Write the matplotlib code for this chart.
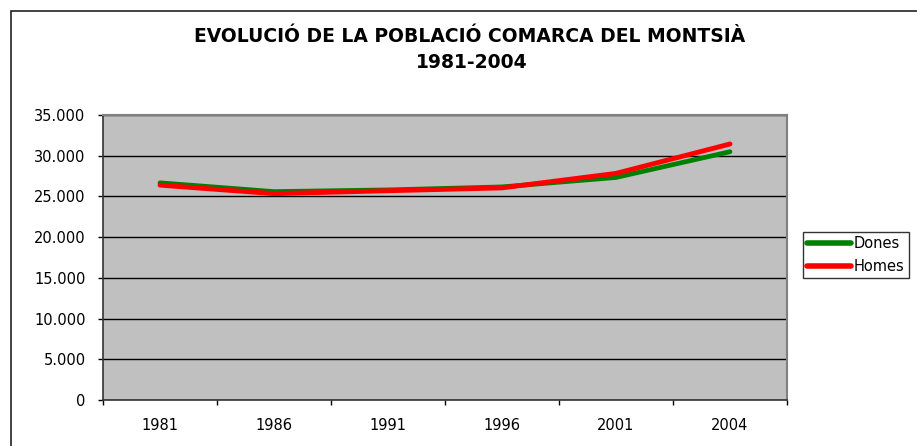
import matplotlib
matplotlib.use("Agg")
import matplotlib.pyplot as plt
from matplotlib.patches import Rectangle
from matplotlib.ticker import FuncFormatter, MultipleLocator

years = ["1981", "1986", "1991", "1996", "2001", "2004"]
dones = [26670, 25590, 25800, 26170, 27330, 30490]
homes = [26390, 25340, 25700, 26050, 27830, 31440]

title_line1 = "EVOLUCIÓ DE LA POBLACIÓ COMARCA DEL MONTSIÀ"
title_line2 = "1981-2004"

plt.rcParams['font.family'] = ['DejaVu Sans', 'Liberation Sans']

W, H = 917, 446
fig = plt.figure(figsize=(W / 100, H / 100), dpi=100)
fig.patch.set_facecolor("white")

# outer chart border (cropped on right/bottom)
fig.add_artist(Rectangle((11 / W, -0.1), 1.2, 1 - 11 / H + 0.1,
                         transform=fig.transFigure, fill=False,
                         edgecolor="#222222", linewidth=1.2))

ax = fig.add_axes([103 / W, (H - 400) / H, (787 - 103) / W, (400 - 115) / H])
ax.set_facecolor("#C0C0C0")

x = list(range(len(years)))
ax.plot(x, dones, color="#008000", linewidth=3.4, solid_capstyle="round",
        solid_joinstyle="round", label="Dones", zorder=3)
ax.plot(x, homes, color="#FF0000", linewidth=3.5, solid_capstyle="round",
        solid_joinstyle="round", label="Homes", zorder=4)

ax.set_xlim(-0.5, len(years) - 0.5)
ax.set_ylim(0, 35000)
ax.yaxis.set_major_locator(MultipleLocator(5000))
ax.yaxis.set_major_formatter(FuncFormatter(lambda v, p: f"{int(v):,}".replace(",", ".")))
ax.grid(axis="y", color="black", linewidth=1.0, zorder=1)
ax.set_axisbelow(True)

ax.set_xticks(x)
ax.set_xticklabels(years)
ax.set_xticks([i - 0.5 for i in range(len(years) + 1)], minor=True)
ax.tick_params(axis="x", which="major", length=0, pad=13, labelsize=10.5, colors="black")
ax.tick_params(axis="x", which="minor", length=3.6, width=1, direction="out", color="black")
ax.tick_params(axis="y", which="major", length=3.6, width=1, direction="out", pad=9,
               labelsize=10.5, colors="black")

for s in ["top", "right"]:
    ax.spines[s].set_color("#808080")
    ax.spines[s].set_linewidth(1.5)
for s in ["left", "bottom"]:
    ax.spines[s].set_color("#333333")
    ax.spines[s].set_linewidth(1.2)

fig.text(470 / W, 1 - 36 / H, title_line1, ha="center", va="center",
         fontsize=13.5, fontweight="bold")
fig.text(472 / W, 1 - 62 / H, title_line2, ha="center", va="center",
         fontsize=13.5, fontweight="bold")

leg = fig.legend(loc="upper left", bbox_to_anchor=(803 / W, 1 - 232 / H),
                 frameon=True, fancybox=False, edgecolor="black",
                 fontsize=10.5, handlelength=3.0, handletextpad=0.2,
                 borderpad=0.3, labelspacing=0.5, borderaxespad=0)
leg.get_frame().set_linewidth(1.0)
for ln in leg.get_lines():
    ln.set_linewidth(4)

fig.savefig("out.png", dpi=100)
